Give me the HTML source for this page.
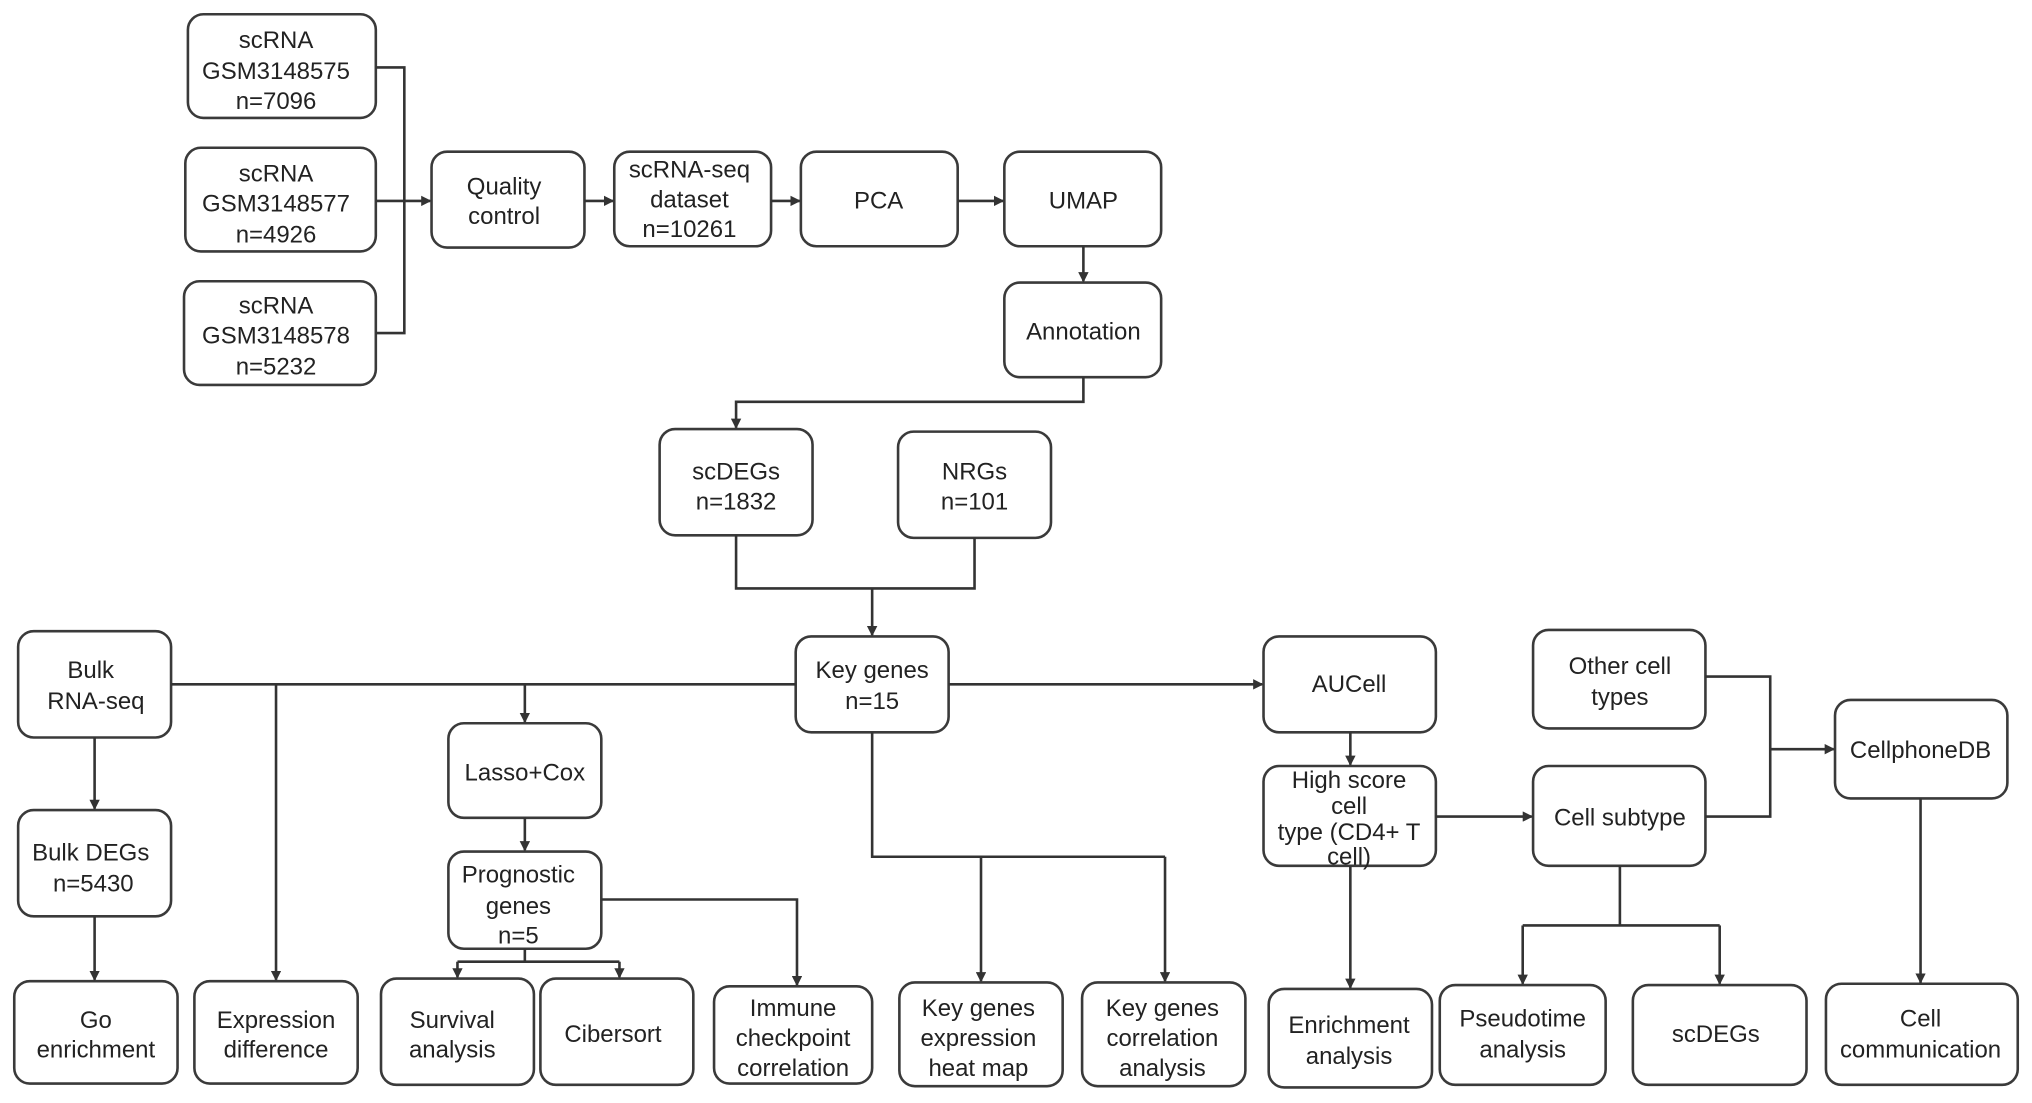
<!DOCTYPE html>
<html><head><meta charset="utf-8"><style>html,body{margin:0;padding:0;background:#fff;}svg{display:block}</style></head>
<body>
<svg width="2032" height="1103" viewBox="0 0 1568 851" preserveAspectRatio="none" xmlns="http://www.w3.org/2000/svg">
<defs><marker id="a" markerWidth="8" markerHeight="8" refX="7" refY="4" orient="auto" markerUnits="userSpaceOnUse"><path d="M0,0 L8,4 L0,8 z" fill="#333"/></marker></defs>
<g fill="none" stroke="#3a3a3a" stroke-width="2">
<rect x="145" y="11" width="145" height="80" rx="12"/>
<rect x="143" y="114" width="147" height="80" rx="12"/>
<rect x="142" y="217" width="148" height="80" rx="12"/>
<rect x="333" y="117" width="118" height="74" rx="12"/>
<rect x="474" y="117" width="121" height="73" rx="12"/>
<rect x="618" y="117" width="121" height="73" rx="12"/>
<rect x="775" y="117" width="121" height="73" rx="12"/>
<rect x="775" y="218" width="121" height="73" rx="12"/>
<rect x="509" y="331" width="118" height="82" rx="12"/>
<rect x="693" y="333" width="118" height="82" rx="12"/>
<rect x="614" y="491" width="118" height="74" rx="12"/>
<rect x="14" y="487" width="118" height="82" rx="12"/>
<rect x="346" y="558" width="118" height="73" rx="12"/>
<rect x="346" y="657" width="118" height="75" rx="12"/>
<rect x="14" y="625" width="118" height="82" rx="12"/>
<rect x="11" y="757" width="126" height="79" rx="12"/>
<rect x="150" y="757" width="126" height="79" rx="12"/>
<rect x="294" y="755" width="118" height="82" rx="12"/>
<rect x="417" y="755" width="118" height="82" rx="12"/>
<rect x="551" y="761" width="122" height="75" rx="12"/>
<rect x="694" y="758" width="126" height="80" rx="12"/>
<rect x="835" y="758" width="126" height="80" rx="12"/>
<rect x="979" y="763" width="126" height="76" rx="12"/>
<rect x="1111" y="760" width="128" height="77" rx="12"/>
<rect x="1260" y="760" width="134" height="77" rx="12"/>
<rect x="1409" y="759" width="148" height="78" rx="12"/>
<rect x="975" y="491" width="133" height="74" rx="12"/>
<rect x="975" y="591" width="133" height="77" rx="12"/>
<rect x="1183" y="486" width="133" height="76" rx="12"/>
<rect x="1183" y="591" width="133" height="77" rx="12"/>
<rect x="1416" y="540" width="133" height="76" rx="12"/>
</g>
<g fill="none" stroke="#333" stroke-width="2">
<path d="M290,52 H312 V257 H290 M290,155 H312"/>
<path d="M312,155 H332" marker-end="url(#a)"/>
<path d="M451,155 H473" marker-end="url(#a)"/>
<path d="M595,155 H617" marker-end="url(#a)"/>
<path d="M739,155 H774" marker-end="url(#a)"/>
<path d="M836,190 V217" marker-end="url(#a)"/>
<path d="M836,291 V310 H568 V330" marker-end="url(#a)"/>
<path d="M568,413 V454 H752 V415 M673,454 V490" marker-end="url(#a)"/>
<path d="M132,528 H614"/>
<path d="M213,528 V756" marker-end="url(#a)"/>
<path d="M405,528 V557" marker-end="url(#a)"/>
<path d="M732,528 H974" marker-end="url(#a)"/>
<path d="M405,631 V656" marker-end="url(#a)"/>
<path d="M464,694 H615 V760" marker-end="url(#a)"/>
<path d="M405,732 V742 M353,742 H478"/>
<path d="M353,742 V754" marker-end="url(#a)"/>
<path d="M478,742 V754" marker-end="url(#a)"/>
<path d="M73,569 V624" marker-end="url(#a)"/>
<path d="M73,707 V756" marker-end="url(#a)"/>
<path d="M673,565 V661 H899"/>
<path d="M757,661 V757" marker-end="url(#a)"/>
<path d="M899,661 V757" marker-end="url(#a)"/>
<path d="M1042,565 V590" marker-end="url(#a)"/>
<path d="M1108,630 H1182" marker-end="url(#a)"/>
<path d="M1316,522 H1366 V630 H1316"/>
<path d="M1366,578 H1415" marker-end="url(#a)"/>
<path d="M1482,616 V758" marker-end="url(#a)"/>
<path d="M1042,668 V762" marker-end="url(#a)"/>
<path d="M1250,668 V714 M1175,714 H1327"/>
<path d="M1175,714 V759" marker-end="url(#a)"/>
<path d="M1327,714 V759" marker-end="url(#a)"/>
</g>
<g font-family="Liberation Sans, sans-serif" font-size="18.5" fill="#222" text-anchor="middle">
<text x="213" y="37">scRNA</text><text x="213" y="61">GSM3148575</text><text x="213" y="84">n=7096</text>
<text x="213" y="140">scRNA</text><text x="213" y="163">GSM3148577</text><text x="213" y="187">n=4926</text>
<text x="213" y="242">scRNA</text><text x="213" y="265">GSM3148578</text><text x="213" y="289">n=5232</text>
<text x="389" y="150">Quality</text><text x="389" y="173">control</text>
<text x="532" y="137">scRNA-seq</text><text x="532" y="160">dataset</text><text x="532" y="183">n=10261</text>
<text x="678" y="161">PCA</text>
<text x="836" y="161">UMAP</text>
<text x="836" y="262">Annotation</text>
<text x="568" y="370">scDEGs</text><text x="568" y="393">n=1832</text>
<text x="752" y="370">NRGs</text><text x="752" y="393">n=101</text>
<text x="673" y="523">Key genes</text><text x="673" y="547">n=15</text>
<text x="70" y="523">Bulk</text><text x="74" y="547">RNA-seq</text>
<text x="405" y="602">Lasso+Cox</text>
<text x="400" y="681">Prognostic</text><text x="400" y="705">genes</text><text x="400" y="728">n=5</text>
<text x="70" y="664">Bulk DEGs</text><text x="72" y="688">n=5430</text>
<text x="74" y="793">Go</text><text x="74" y="816">enrichment</text>
<text x="213" y="793">Expression</text><text x="213" y="816">difference</text>
<text x="349" y="793">Survival</text><text x="349" y="816">analysis</text>
<text x="473" y="804">Cibersort</text>
<text x="612" y="784">Immune</text><text x="612" y="807">checkpoint</text><text x="612" y="830">correlation</text>
<text x="755" y="784">Key genes</text><text x="755" y="807">expression</text><text x="755" y="830">heat map</text>
<text x="897" y="784">Key genes</text><text x="897" y="807">correlation</text><text x="897" y="830">analysis</text>
<text x="1041" y="797">Enrichment</text><text x="1041" y="821">analysis</text>
<text x="1175" y="792">Pseudotime</text><text x="1175" y="816">analysis</text>
<text x="1324" y="804">scDEGs</text>
<text x="1482" y="792">Cell</text><text x="1482" y="816">communication</text>
<text x="1041" y="534">AUCell</text>
<text x="1041" y="608">High score</text><text x="1041" y="628">cell</text><text x="1041" y="648">type (CD4+ T</text><text x="1041" y="667">cell)</text>
<text x="1250" y="520">Other cell</text><text x="1250" y="544">types</text>
<text x="1250" y="637">Cell subtype</text>
<text x="1482" y="585">CellphoneDB</text>
</g>
</svg>
</body></html>
